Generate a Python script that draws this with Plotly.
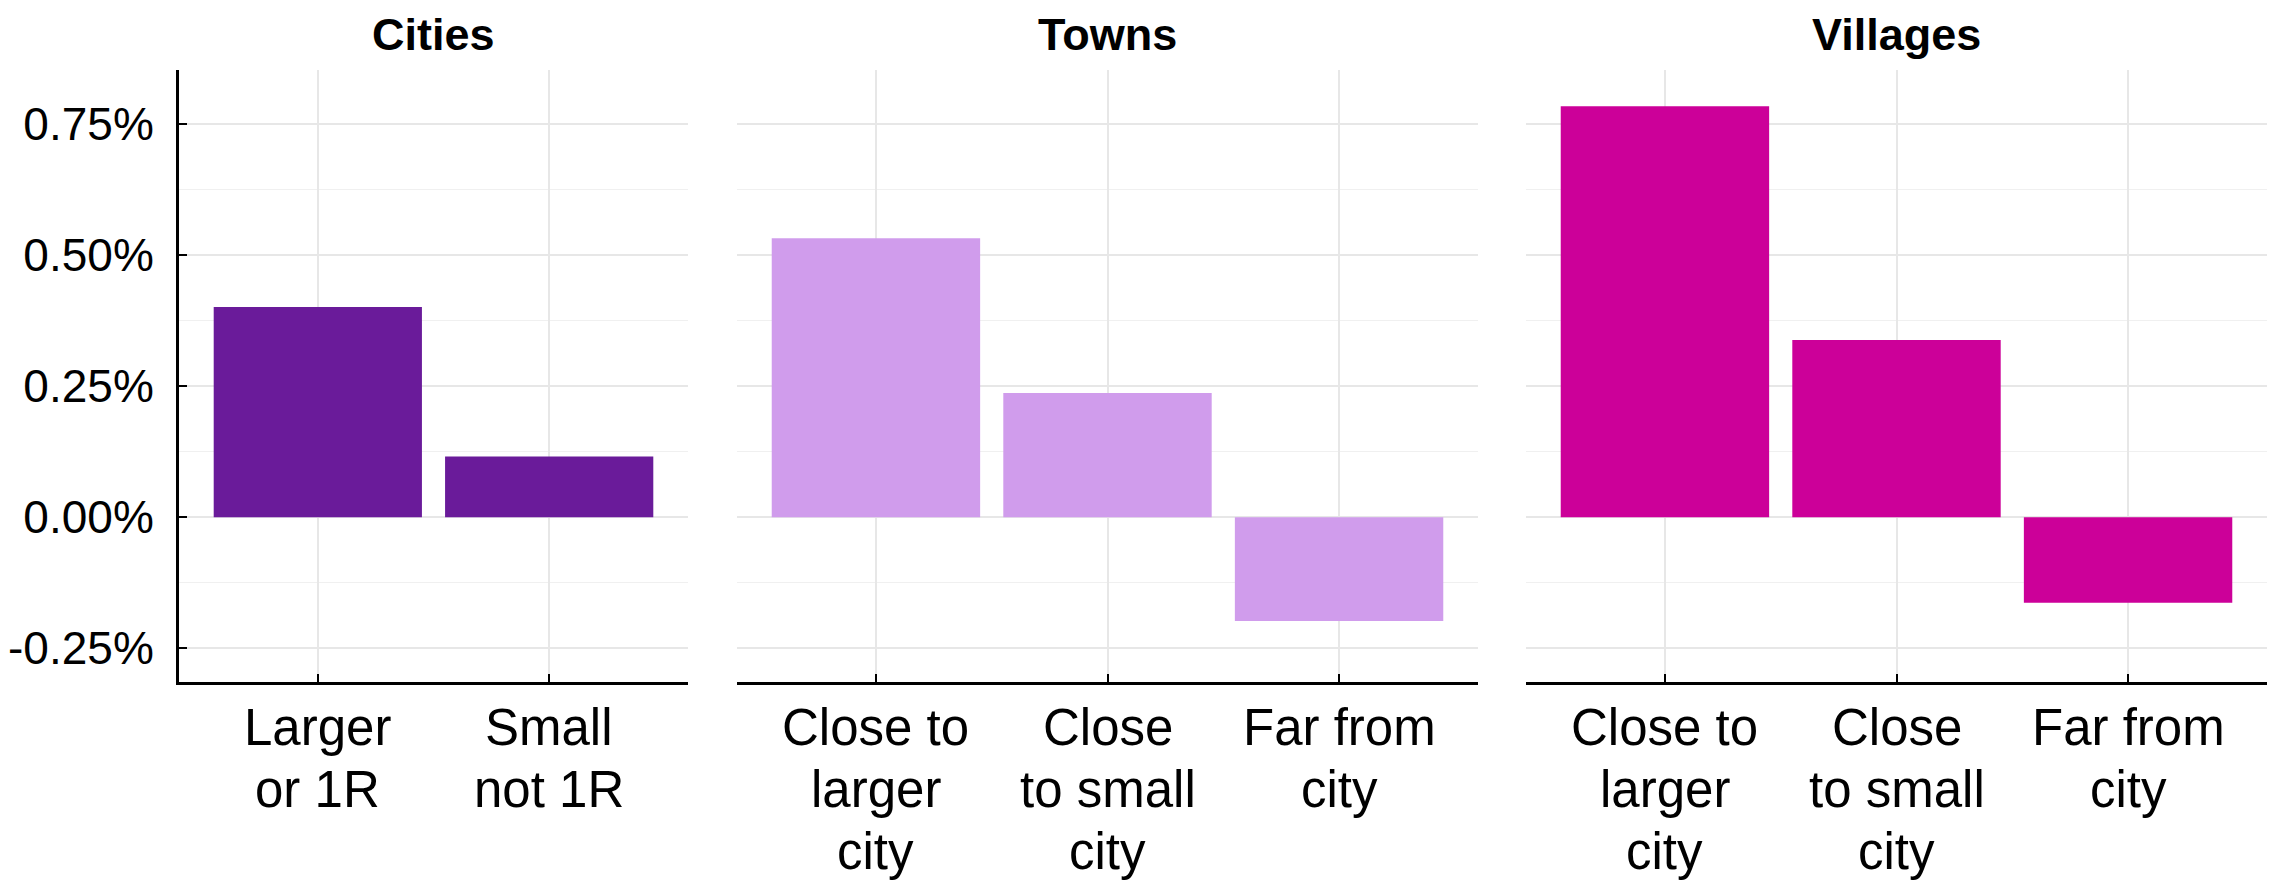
import plotly.graph_objects as go

W, H = 2277, 884
OFF = 8  # default body margin of the written page

# data (values are percent)
titles = ["Cities", "Towns", "Villages"]
cities_labels = ["Larger<br>or 1R", "Small<br>not 1R"]
towns_labels = ["Close to<br>larger<br>city", "Close<br>to small<br>city", "Far from<br>city"]
villages_labels = ["Close to<br>larger<br>city", "Close<br>to small<br>city", "Far from<br>city"]
cities_values = [0.401, 0.116]
towns_values = [0.532, 0.237, -0.198]
villages_values = [0.784, 0.338, -0.163]
y_tickvals = [-0.25, 0.0, 0.25, 0.5, 0.75]
y_ticktext = ["-0.25%", "0.00%", "0.25%", "0.50%", "0.75%"]

COLORS = ["#6A1B9A", "#D09CEC", "#CC0099"]
FONT = "Liberation Sans, Arial, Helvetica, sans-serif"
GRID = "#e7e7e7"
GRID_MINOR = "#f0f0f0"

FW, FH = W - OFF, H - OFF


def px_x(x):
    return (x - OFF) / FW


def px_y(y):
    return 1 - (y - OFF) / FH


# layout in window pixels
x_domains_px = [(179, 688), (737, 1478), (1526, 2267)]
plot_top, plot_bottom = 70, 682
y_domain = [px_y(plot_bottom), px_y(plot_top)]
y_range = [-0.3143, 0.853]
label_first, label_gap = 45, 62

panels = [
    (titles[0], cities_labels, cities_values, COLORS[0]),
    (titles[1], towns_labels, towns_values, COLORS[1]),
    (titles[2], villages_labels, villages_values, COLORS[2]),
]

fig = go.Figure()
annotations = []

for i, (title, labels, values, color) in enumerate(panels):
    n = "" if i == 0 else str(i + 1)
    fig.add_trace(go.Bar(
        x=labels, y=values, width=0.9,
        marker=dict(color=color, line=dict(width=0)),
        xaxis="x" + n, yaxis="y" + n, showlegend=False,
    ))

    x0, x1 = x_domains_px[i]
    fig.update_layout(**{
        "xaxis" + n: dict(
            domain=[px_x(x0), px_x(x1)], anchor="y" + n, type="category",
            range=[-0.6, len(labels) - 0.4], automargin=False,
            showgrid=True, gridcolor=GRID, gridwidth=1.5,
            showline=True, linecolor="black", linewidth=3,
            ticks="inside", ticklen=8, tickwidth=2, tickcolor="black",
            showticklabels=False, zeroline=False,
        ),
        "yaxis" + n: dict(
            domain=y_domain, anchor="x" + n, range=y_range, automargin=False,
            tickmode="array", tickvals=y_tickvals, ticktext=y_ticktext,
            showgrid=True, gridcolor=GRID, gridwidth=1.5,
            minor=dict(tickmode="linear", tick0=0, dtick=0.125,
                       showgrid=True, gridcolor=GRID_MINOR, gridwidth=1),
            zeroline=False,
            showline=(i == 0), linecolor="black", linewidth=3,
            ticks="inside" if i == 0 else "", ticklen=8, tickwidth=2, tickcolor="black",
            showticklabels=(i == 0), ticklabelstandoff=13,
            tickfont=dict(family=FONT, size=46, color="black"),
        ),
    })

    # panel title, box kept inside the top edge
    annotations.append(dict(
        text=title, x=px_x((x0 + x1) / 2), y=1, xref="paper", yref="paper",
        xanchor="center", yanchor="top", showarrow=False, borderpad=0,
        font=dict(family=FONT, size=45, color="black", weight="bold"),
    ))

    # category labels, one line at a time for tighter line spacing
    for lab in labels:
        for k, line in enumerate(lab.split("<br>")):
            annotations.append(dict(
                text=line, x=lab, xref="x" + n, y=y_domain[0], yref="paper",
                xanchor="center", yanchor="middle", showarrow=False,
                yshift=-(label_first + k * label_gap),
                font=dict(family=FONT, size=51, color="black"),
            ))

fig.update_layout(
    width=FW, height=FH, autosize=False,
    margin=dict(l=0, r=0, t=0, b=0),
    paper_bgcolor="white", plot_bgcolor="white",
    bargap=0.1,
    annotations=annotations,
)

fig.write_html("out.html")
